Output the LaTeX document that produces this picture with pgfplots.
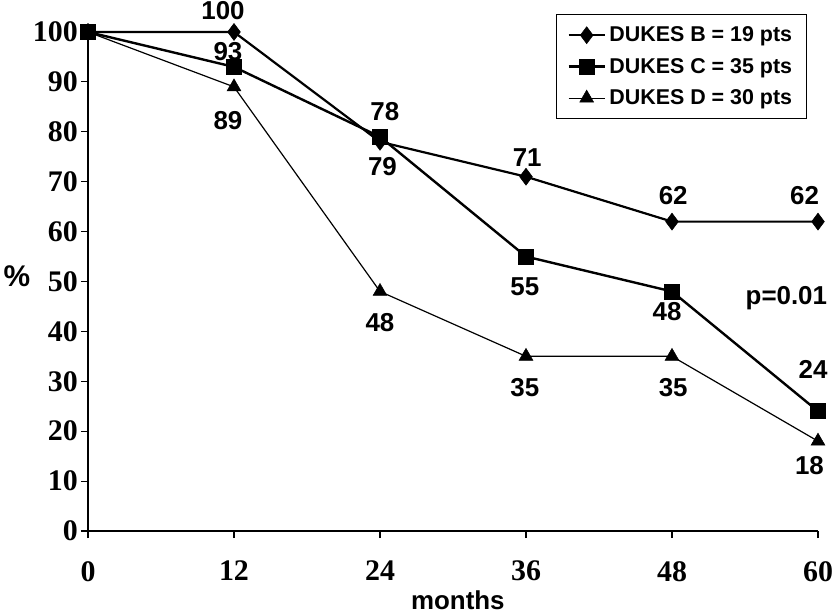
\documentclass[border=0pt]{standalone}
\usepackage{pgfplots}
\pgfplotsset{compat=1.18}
\usepackage{fontspec}
\setmainfont{Liberation Sans}
\newfontfamily\tnr{Liberation Serif}

\pgfplotstableread{
m B C D
0 100 100 100
12 100 93 89
24 78 79 48
36 71 55 35
48 62 48 35
60 62 24 18
}\survdata

\begin{document}
\begin{tikzpicture}
\useasboundingbox (-88bp,-83bp) rectangle (745bp,531bp);
\tikzset{dl/.style={font=\bfseries\fontsize{26}{26}\selectfont, inner sep=0pt}}
\begin{axis}[
  at={(0,0)}, anchor=south west,
  scale only axis, width=730bp, height=499bp,
  xmin=0, xmax=60, ymin=0, ymax=100,
  axis lines*=left,
  axis line style={line width=1.3bp, black},
  xtick={0,12,24,36,48,60},
  ytick={0,10,20,30,40,50,60,70,80,90,100},
  tick align=outside,
  major tick length=7bp,
  tick style={line width=1.2bp, black},
  /pgf/number format/assume math mode=true,
  ticklabel style={font=\tnr\bfseries\fontsize{30}{30}\selectfont},
  yticklabel style={inner sep=3bp},
  xticklabel style={inner sep=0pt, yshift=-23bp},
  clip=false,
  legend cell align=left,
  legend image code/.code={
    \draw[mark repeat=2,mark phase=2,#1] plot coordinates {(0bp,0bp) (18bp,0bp) (36bp,0bp)};
  },
  legend style={
    at={(axis cs:59.1,103.6)}, anchor=north east,
    draw=black, line width=0.9bp,
    font=\bfseries\fontsize{21.5}{21.5}\selectfont,
    inner xsep=11bp, inner ysep=9bp,
    nodes={inner sep=3.5bp},
    row sep=8bp,
  },
]
\addplot[black, line width=2.2bp, mark=diamond*, mark size=8.5bp, mark options={solid, line width=0.5bp}] table[x=m, y=B] {\survdata};
\addlegendentry{DUKES B = 19 pts}
\addplot[black, line width=2.4bp, mark=square*, mark size=7.5bp, mark options={solid, line width=0.5bp}] table[x=m, y=C] {\survdata};
\addlegendentry{DUKES C = 35 pts}
\addplot[black, line width=1.2bp, mark=triangle*, mark size=8bp, mark options={solid, line width=0.5bp}] table[x=m, y=D] {\survdata};
\addlegendentry{DUKES D = 30 pts}

\node[dl] at (axis cs:11.1,104.2) {100};
\node[dl] at (axis cs:11.5,96) {93};
\node[dl] at (axis cs:11.5,82.2) {89};
\node[dl] at (axis cs:24.4,84) {78};
\node[dl] at (axis cs:24.2,73.1) {79};
\node[dl] at (axis cs:24.0,41.7) {48};
\node[dl] at (axis cs:36.1,74.9) {71};
\node[dl] at (axis cs:35.9,48.9) {55};
\node[dl] at (axis cs:35.9,28.7) {35};
\node[dl] at (axis cs:48.1,67.3) {62};
\node[dl] at (axis cs:47.6,43.9) {48};
\node[dl] at (axis cs:48.1,28.7) {35};
\node[dl] at (axis cs:58.9,67.3) {62};
\node[dl] at (axis cs:59.6,32.3) {24};
\node[dl] at (axis cs:59.3,13.2) {18};
\node[dl] at (axis cs:57.4,46.7) {p=0.01};
\node[dl, anchor=base] at (axis cs:30.4,0) [yshift=-78bp] {months};
\node[dl, font=\bfseries\fontsize{30}{30}\selectfont] at (axis cs:0,51) [xshift=-71bp] {\%};
\end{axis}
\end{tikzpicture}
\end{document}
